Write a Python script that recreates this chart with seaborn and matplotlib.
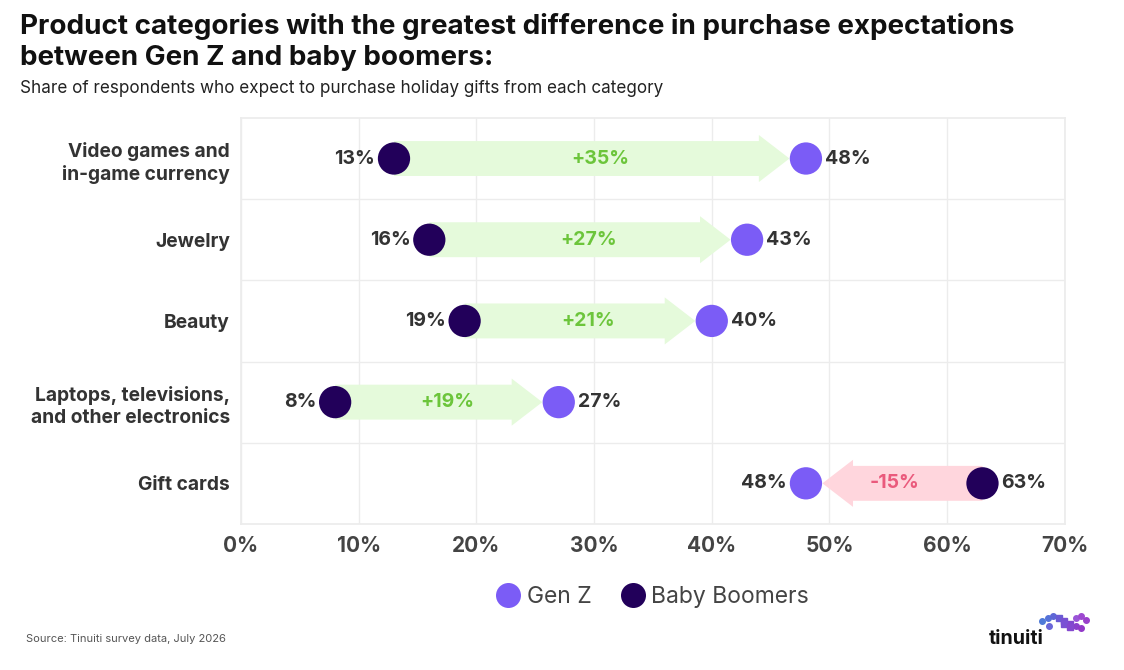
import matplotlib
matplotlib.use("Agg")
import matplotlib.pyplot as plt
from matplotlib.patches import FancyArrow
from matplotlib.lines import Line2D
import pandas as pd
import seaborn as sns

# data
categories = ["Video games and\nin-game currency", "Jewelry", "Beauty",
              "Laptops, televisions,\nand other electronics", "Gift cards"]
gen_z = [48, 43, 40, 27, 48]
boomers = [13, 16, 19, 8, 63]
x_ticks = [0, 10, 20, 30, 40, 50, 60, 70]

GENZ_COLOR = "#7b5cf6"
BOOMER_COLOR = "#22005a"
UP_FILL, UP_TEXT = "#e5fadb", "#6cc53b"
DOWN_FILL, DOWN_TEXT = "#ffd6dd", "#ea5a7c"
TEXT_DARK = "#333333"

sns.set_theme(style="whitegrid")
plt.rcParams["font.family"] = ["Inter", "DejaVu Sans"]

rows = list(range(len(categories)))
df = pd.DataFrame({
    "row": rows * 2,
    "value": gen_z + boomers,
    "group": ["Gen Z"] * len(rows) + ["Baby Boomers"] * len(rows),
})

fig = plt.figure(figsize=(11.24, 6.7), dpi=100)
ax = fig.add_axes([0.2144, 0.218, 0.733, 0.606])

# arrows from boomers to gen z, drawn behind the dots
r = 1.4  # dot radius in x units
for i, (g, b) in enumerate(zip(gen_z, boomers)):
    diff = g - b
    up = diff > 0
    end = g - r if up else g + r
    ax.add_patch(FancyArrow(b, i, end - b, 0, width=0.43, head_width=0.58,
                            head_length=2.6, length_includes_head=True,
                            color=UP_FILL if up else DOWN_FILL, lw=0, zorder=2))
    ax.text((b + g) / 2, i, f"{diff:+d}%", ha="center", va="center",
            fontsize=14, fontweight="bold", color=UP_TEXT if up else DOWN_TEXT, zorder=4)
    lo, hi = (b, g) if up else (g, b)
    ax.text(lo - 1.6, i, f"{lo}%", ha="right", va="center", fontsize=14,
            fontweight="bold", color=TEXT_DARK, zorder=4)
    ax.text(hi + 1.6, i, f"{hi}%", ha="left", va="center", fontsize=14,
            fontweight="bold", color=TEXT_DARK, zorder=4)

sns.scatterplot(data=df, x="value", y="row", hue="group",
                palette={"Gen Z": GENZ_COLOR, "Baby Boomers": BOOMER_COLOR},
                s=540, linewidth=0, legend=False, zorder=3, ax=ax)

ax.set_xlim(0, 70)
ax.set_ylim(len(categories) - 0.5, -0.5)
ax.set_xticks(x_ticks)
ax.set_xticklabels([f"{t}%" for t in x_ticks], fontsize=15, fontweight="bold", color="#444444")
ax.set_yticks(rows)
ax.set_yticklabels(categories, fontsize=13.8, fontweight="bold", color=TEXT_DARK,
                   linespacing=1.3)
ax.tick_params(axis="x", pad=9, length=0)
ax.tick_params(axis="y", pad=8, length=0)
ax.grid(axis="y", visible=False)
ax.grid(axis="x", color="#ececec", lw=1)
for yb in [0.5, 1.5, 2.5, 3.5]:
    ax.axhline(yb, color="#ececec", lw=1, zorder=1)
for s in ax.spines.values():
    s.set_color("#ececec")
ax.set_xlabel("")
ax.set_ylabel("")

handles = [Line2D([], [], marker="o", ls="", ms=18, mfc=GENZ_COLOR, mec="none", label="Gen Z"),
           Line2D([], [], marker="o", ls="", ms=18, mfc=BOOMER_COLOR, mec="none", label="Baby Boomers")]
ax.legend(handles=handles, loc="center", bbox_to_anchor=(0.5, -0.18), ncol=2, frameon=False,
          fontsize=16.5, handlelength=1.0, handletextpad=0.3, columnspacing=1.3,
          labelcolor="#444444")

fig.text(0.018, 0.98, "Product categories with the greatest difference in purchase expectations\n"
         "between Gen Z and baby boomers:", fontsize=20, fontweight="bold", color="#111111",
         va="top", linespacing=1.22)
fig.text(0.018, 0.868, "Share of respondents who expect to purchase holiday gifts from each category",
         fontsize=12.3, color="#222222", va="center")
fig.text(0.023, 0.047, "Source: Tinuiti survey data, July 2026", fontsize=8, color="#555555", va="center")

# tinuiti logo
fig.text(0.88, 0.047, "tinuiti", fontsize=14, fontweight="bold", color="#111111", va="center", ha="left")
logo_x = [0.927, 0.932, 0.937, 0.942, 0.947, 0.952, 0.957, 0.962, 0.947, 0.952, 0.957, 0.962, 0.966, 0.933]
logo_y = [0.073, 0.078, 0.080, 0.077, 0.073, 0.069, 0.065, 0.063, 0.068, 0.064, 0.078, 0.081, 0.074, 0.066]
logo_c = ["#4f7ad8", "#5572d8", "#5e67d6", "#6a5ad4", "#7750d2", "#8147cf", "#8a3fcb", "#9238c8",
          "#7a52d4", "#8448cf", "#9a55d8", "#9d48d0", "#9a3fcb", "#6a66d8"]
for lx, ly, lc in zip(logo_x, logo_y, logo_c):
    fig.add_artist(Line2D([lx], [ly], marker="s" if 0.94 < lx < 0.955 else "o", ms=4,
                          color=lc, ls="", transform=fig.transFigure))

fig.savefig("out.png", dpi=100)
